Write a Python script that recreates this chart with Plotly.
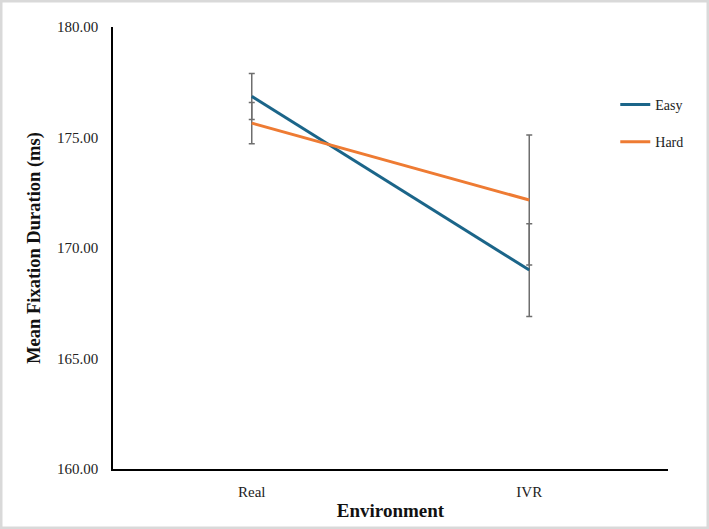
import plotly.graph_objects as go

environments = ["Real", "IVR"]
easy_mean = [176.86, 169.00]
easy_err = [1.04, 2.10]
hard_mean = [175.65, 172.17]
hard_err = [0.93, 2.94]
y_ticks = [160, 165, 170, 175, 180]

fig = go.Figure()
fig.add_trace(go.Scatter(
    x=environments, y=easy_mean, mode="lines", name="Easy",
    line=dict(color="#1B6589", width=3),
    error_y=dict(type="data", array=easy_err, visible=True, color="#6e6e6e", thickness=1.5, width=3),
    legendgroup="a",
))
fig.add_trace(go.Scatter(
    x=environments, y=hard_mean, mode="lines", name="Hard",
    line=dict(color="#EE7B33", width=3),
    error_y=dict(type="data", array=hard_err, visible=True, color="#6e6e6e", thickness=1.5, width=3),
    legendgroup="b",
))

font_family = "Liberation Serif"
fig.update_layout(
    width=709, height=529,
    margin=dict(l=113, r=41, t=27, b=60),
    paper_bgcolor="white", plot_bgcolor="white",
    font=dict(family=font_family, size=15, color="#222"),
    showlegend=True,
    legend=dict(x=0.905, y=0.86, xanchor="left", yanchor="top",
                font=dict(family=font_family, size=14, color="#222"),
                tracegroupgap=16, bgcolor="rgba(0,0,0,0)", itemwidth=30),
    xaxis=dict(type="category", range=[-0.5, 1.5], showgrid=False, showline=True,
               linecolor="black", linewidth=1.5, ticks="", zeroline=False,
               ticklabelstandoff=8, automargin=False,
               title=dict(text="<b>Environment</b>", font=dict(family=font_family, size=19, color="#111"), standoff=5),
               tickfont=dict(family=font_family, size=15, color="#222")),
    yaxis=dict(range=[160, 180], tickvals=y_ticks, tickformat=".2f", showgrid=False,
               showline=True, linecolor="black", linewidth=1.5, ticks="", zeroline=False,
               ticklabelstandoff=10, automargin=False,
               title=dict(text="<b>Mean Fixation Duration (ms)</b>", font=dict(family=font_family, size=18.5, color="#111"), standoff=12),
               tickfont=dict(family=font_family, size=15, color="#222")),
)
fig.update_layout(shapes=[dict(type="rect", xref="paper", yref="paper",
                               x0=-112/555, x1=1 + 40/555, y0=-59/442, y1=1 + 26/442,
                               line=dict(color="#d9d9d9", width=3), fillcolor="rgba(0,0,0,0)")])
fig.write_html("out.html")
